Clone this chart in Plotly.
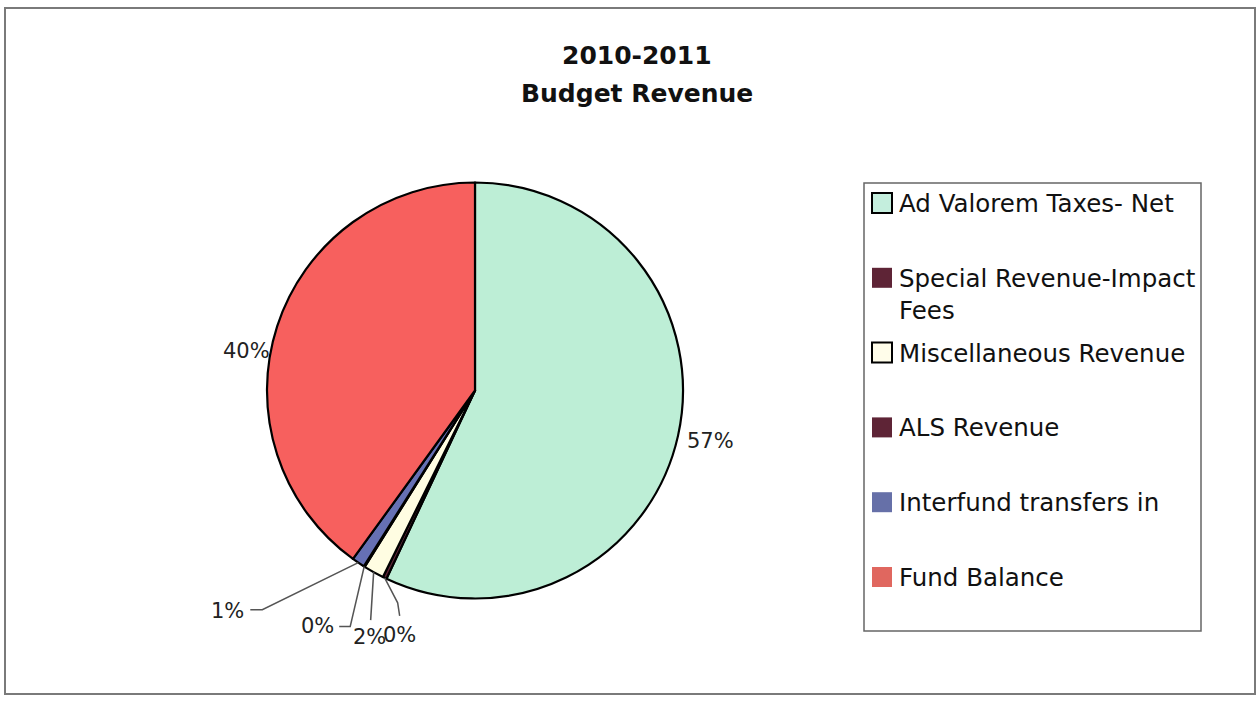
import math
import plotly.graph_objects as go

categories = ["Ad Valorem Taxes- Net", "Special Revenue-Impact Fees", "Miscellaneous Revenue",
              "ALS Revenue", "Interfund transfers in", "Fund Balance"]
legend_labels = ["Ad Valorem Taxes- Net", "Special Revenue-Impact<br>Fees", "Miscellaneous Revenue",
                 "ALS Revenue", "Interfund transfers in", "Fund Balance"]
shares = [57.0, 0.3, 1.6, 0.08, 1.0, 40.02]
pie_colors = ["#bdeed6", "#5e2436", "#fffde2", "#5e2436", "#6670b4", "#f7605e"]
legend_colors = ["#c4eedd", "#5e2436", "#fffdea", "#5e2436", "#6670a8", "#e0675f"]
legend_outline = [True, False, True, False, False, False]

# label placement (layout only): label offset from the slice's rim point, xanchor,
# and leader-line bend points (offsets from the rim point)
label_layout = [
    dict(dx=33, dy=5, xa="center", bends=[]),
    dict(dx=15, dy=57, xa="center", bends=[(13, 25), (15, 38)]),
    dict(dx=-4, dy=65, xa="center", bends=[(-3, 48)]),
    dict(dx=-28, dy=59, xa="right", bends=[(-14, 60), (-25, 60)]),
    dict(dx=-112, dy=48, xa="right", bends=[(-96, 47), (-108, 47)]),
    dict(dx=-31, dy=25, xa="center", bends=[]),
]

W, H = 1259, 701
FONT = "DejaVu Sans"
# pie geometry in pixels
PX0, PX1, PY0, PY1 = 267, 683, 182, 599
CX, CY = (PX0 + PX1) / 2, (PY0 + PY1) / 2
R = min(PX1 - PX0, PY1 - PY0) / 2


def px(x):
    return x / W


def py(y):
    return 1 - y / H


fig = go.Figure()
fig.add_trace(go.Pie(
    labels=categories, values=shares, sort=False, direction="clockwise", rotation=0,
    marker=dict(colors=pie_colors, line=dict(color="black", width=2.2)),
    textinfo="none",
    domain=dict(x=[px(PX0), px(PX1)], y=[py(PY1), py(PY0)]),
    showlegend=False, hoverinfo="label+percent",
))

shapes = []
annotations = []

# percentage labels with leader lines, positioned from slice angles
total = sum(shares)
cum = 0.0
for v, spec in zip(shares, label_layout):
    theta = math.radians(360.0 * (cum + v / 2) / total)
    cum += v
    ax = CX + R * math.sin(theta)
    ay = CY - R * math.cos(theta)
    if spec["bends"]:
        pts = [(ax, ay)] + [(ax + bx, ay + by) for bx, by in spec["bends"]]
        path = "M " + " L ".join(f"{px(x):.5f},{py(y):.5f}" for x, y in pts)
        shapes.append(dict(type="path", xref="paper", yref="paper", path=path,
                           line=dict(color="#555", width=1.5)))
    annotations.append(dict(text=f"{round(100 * v / total)}%", xref="paper", yref="paper",
                            x=px(ax + spec["dx"]), y=py(ay + spec["dy"]),
                            xanchor=spec["xa"], yanchor="middle", showarrow=False,
                            font=dict(family=FONT, size=21, color="#222")))

# outer frame
shapes.append(dict(type="rect", xref="paper", yref="paper", x0=px(5), x1=px(1255),
                   y0=py(694), y1=py(8), line=dict(color="#7a7a7a", width=2)))
# legend box
lx0, lx1, ly0, ly1 = 864, 1201, 183, 631
shapes.append(dict(type="rect", xref="paper", yref="paper", x0=px(lx0), x1=px(lx1),
                   y0=py(ly1), y1=py(ly0), line=dict(color="#666", width=1.5)))
step = 74.8
for i, (lab, col, outl) in enumerate(zip(legend_labels, legend_colors, legend_outline)):
    cy = 203 + i * step
    shapes.append(dict(type="rect", xref="paper", yref="paper",
                       x0=px(872), x1=px(892), y0=py(cy + 10), y1=py(cy - 10),
                       fillcolor=col, line=dict(color="black" if outl else col, width=2 if outl else 0)))
    annotations.append(dict(text=lab, xref="paper", yref="paper", x=px(897), y=py(cy - 16),
                            xanchor="left", yanchor="top", showarrow=False, align="left",
                            font=dict(family=FONT, size=24.5, color="#111")))

annotations.append(dict(text="<b>2010-2011</b>", xref="paper", yref="paper", x=px(637), y=py(55),
                        xanchor="center", yanchor="middle", showarrow=False,
                        font=dict(family=FONT, size=25, color="#111")))
annotations.append(dict(text="<b>Budget Revenue</b>", xref="paper", yref="paper", x=px(637), y=py(93),
                        xanchor="center", yanchor="middle", showarrow=False,
                        font=dict(family=FONT, size=25, color="#111")))

fig.update_layout(width=W, height=H, margin=dict(l=0, r=0, t=0, b=0),
                  paper_bgcolor="white", plot_bgcolor="white",
                  shapes=shapes, annotations=annotations)
fig.write_html("out.html", config={"displayModeBar": False},
               post_script="document.body.style.margin='0';")
